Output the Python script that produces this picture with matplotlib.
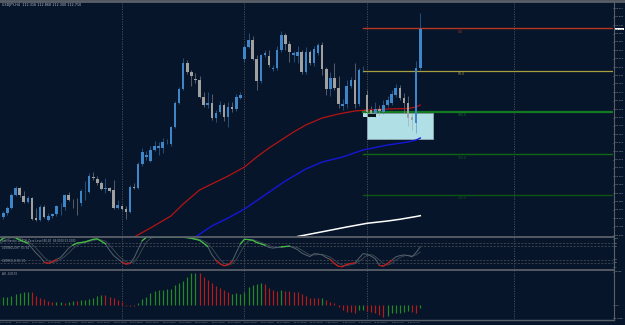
import matplotlib
matplotlib.use("Agg")
import matplotlib.pyplot as plt
import matplotlib.patches as patches
import matplotlib.lines as lines
import matplotlib.transforms as mtrans
import numpy as np
from datetime import date, timedelta

# ---- data (H4 candles) ----
opens = [110.780, 110.830, 110.870, 110.920, 111.050, 111.120, 111.040, 110.980, 111.020, 110.820,
         110.800, 110.930, 110.800, 110.840, 110.860, 110.937, 110.930, 111.050, 110.980, 110.980,
         110.970, 111.087, 111.080, 111.235, 111.210, 111.170, 111.115, 111.120, 111.100, 110.920,
         110.940, 110.910, 110.880, 111.130, 111.120, 111.360, 111.430, 111.390, 111.500, 111.520,
         111.520, 111.577, 111.560, 111.730, 111.970, 112.110, 112.370, 112.280, 112.210, 112.200,
         112.030, 111.950, 111.970, 111.820, 111.880, 111.950, 111.830, 111.930, 111.910, 112.020,
         112.410, 112.530, 112.600, 112.410, 112.190, 112.450, 112.440, 112.310, 112.320, 112.500,
         112.650, 112.560, 112.450, 112.440, 112.480, 112.280, 112.480, 112.370, 112.470, 112.550,
         112.310, 112.110, 112.220, 112.120, 111.940, 111.960, 112.140, 112.200, 111.960, 112.297,
         112.050, 111.900, 111.870, 111.910, 111.880, 111.950, 111.970, 112.050, 112.120, 112.020,
         111.970, 111.830, 111.770, 112.320]
highs = [110.860, 110.890, 110.940, 111.070, 111.140, 111.130, 111.090, 111.040, 111.030, 110.920,
         110.950, 110.950, 110.870, 110.870, 110.950, 110.970, 111.060, 111.080, 111.010, 111.020,
         111.110, 111.190, 111.270, 111.280, 111.240, 111.190, 111.220, 111.130, 111.200, 111.000,
         110.950, 110.940, 111.150, 111.170, 111.380, 111.520, 111.490, 111.540, 111.590, 111.580,
         111.620, 111.610, 111.740, 111.990, 112.130, 112.420, 112.400, 112.300, 112.270, 112.240,
         112.080, 112.080, 112.060, 111.900, 111.990, 111.970, 111.980, 111.980, 112.060, 112.080,
         112.550, 112.670, 112.640, 112.450, 112.460, 112.500, 112.500, 112.350, 112.540, 112.690,
         112.670, 112.590, 112.490, 112.540, 112.500, 112.530, 112.500, 112.540, 112.570, 112.580,
         112.330, 112.280, 112.370, 112.240, 112.010, 112.200, 112.230, 112.370, 112.320, 112.340,
         112.100, 111.940, 111.980, 111.950, 112.000, 112.040, 112.100, 112.160, 112.150, 112.070,
         112.040, 111.870, 112.390, 112.870]
lows = [110.750, 110.810, 110.850, 110.910, 111.040, 111.030, 110.970, 110.970, 110.800, 110.790,
        110.790, 110.820, 110.790, 110.820, 110.840, 110.850, 110.900, 110.990, 110.920, 110.850,
        110.940, 111.000, 111.070, 111.200, 111.150, 111.100, 111.070, 111.080, 110.910, 110.910,
        110.900, 110.810, 110.870, 111.110, 111.110, 111.340, 111.400, 111.380, 111.490, 111.450,
        111.470, 111.560, 111.540, 111.720, 111.960, 112.100, 112.260, 112.140, 112.170, 112.020,
        111.930, 111.920, 111.800, 111.780, 111.860, 111.790, 111.730, 111.880, 111.890, 112.010,
        112.380, 112.520, 112.400, 112.100, 112.170, 112.430, 112.330, 112.290, 112.300, 112.480,
        112.500, 112.380, 112.380, 112.370, 112.260, 112.260, 112.350, 112.340, 112.450, 112.250,
        112.050, 112.040, 112.100, 111.920, 111.900, 111.920, 112.120, 111.920, 111.940, 112.280,
        111.860, 111.840, 111.830, 111.850, 111.860, 111.930, 111.950, 112.030, 112.000, 111.870,
        111.740, 111.700, 111.670, 112.300]
closes = [110.833, 110.870, 110.920, 111.050, 111.120, 111.050, 110.980, 111.020, 110.810, 110.800,
          110.930, 110.830, 110.840, 110.860, 110.940, 110.940, 111.050, 111.000, 110.977, 110.977,
          111.090, 111.090, 111.240, 111.225, 111.170, 111.110, 111.120, 111.090, 110.920, 110.950,
          110.910, 110.880, 111.130, 111.125, 111.360, 111.480, 111.450, 111.500, 111.540, 111.540,
          111.580, 111.580, 111.730, 111.970, 112.110, 112.370, 112.280, 112.240, 112.200, 112.030,
          111.950, 111.970, 111.820, 111.870, 111.950, 111.830, 111.930, 111.910, 112.030, 112.050,
          112.530, 112.600, 112.410, 112.190, 112.450, 112.470, 112.350, 112.320, 112.500, 112.650,
          112.560, 112.480, 112.470, 112.480, 112.280, 112.480, 112.370, 112.510, 112.550, 112.310,
          112.110, 112.220, 112.120, 111.960, 111.960, 112.140, 112.200, 111.960, 112.300, 112.300,
          111.880, 111.870, 111.910, 111.890, 111.950, 112.000, 112.060, 112.120, 112.020, 111.970,
          111.820, 111.800, 112.320, 112.710]

# moving averages (bar index, price)
ma_red_idx = [33, 37, 42, 45, 47, 49, 52, 56, 60, 63, 66, 69, 72, 75, 79, 83, 87, 90, 95, 100, 102, 103]
ma_red_val = [110.63, 110.72, 110.84, 110.96, 111.03, 111.10, 111.16, 111.24, 111.33, 111.43, 111.52,
              111.60, 111.68, 111.75, 111.82, 111.86, 111.89, 111.90, 111.91, 111.915, 111.93, 111.95]
ma_blue_idx = [48, 52, 56, 60, 65, 70, 75, 79, 84, 89, 95, 100, 102, 103]
ma_blue_val = [110.63, 110.74, 110.82, 110.91, 111.05, 111.19, 111.31, 111.38, 111.43, 111.50,
               111.55, 111.58, 111.60, 111.62]
ma_white_idx = [73, 80, 85, 90, 95, 98, 102, 103]
ma_white_val = [110.635, 110.69, 110.73, 110.767, 110.79, 110.807, 110.835, 110.843]

# horizontal levels drawn from bar 89 to the right edge
level_start = 89
level_prices = [112.717, 112.290, 111.880, 111.457, 111.053]
level_names = ["0.0", "50.0", "100.0", "150.0", "200.0"]

# zone box (bar range, price range)
zone_bars = (90, 106)
zone_prices = (111.607, 111.870)

# stochastic
stoch_main = [85, 96, 98, 98, 97, 90, 85, 80, 65, 50, 38, 22, 18, 23, 30, 36, 50, 65, 74, 80,
              82, 84, 88, 92, 93, 86, 78, 58, 42, 32, 22, 16, 18, 35, 62, 88, 98, 98, 98, 98,
              98, 98, 98, 98, 98, 98, 97, 95, 92, 89, 80, 70, 45, 28, 17, 11, 14, 25, 52, 78,
              92, 91, 89, 82, 78, 74, 67, 65, 67, 69, 70, 71, 66, 60, 50, 44, 39, 48, 47, 44,
              36, 30, 18, 9, 8, 15, 18, 19, 34, 48, 46, 40, 32, 12, 10, 18, 27, 38, 42, 44,
              42, 38, 52, 69]
stoch_signal = [80, 86, 92, 97, 97, 95, 91, 85, 77, 65, 51, 37, 26, 21, 24, 30, 39, 50, 63, 73,
                79, 82, 85, 88, 91, 90, 86, 74, 59, 44, 32, 23, 19, 23, 38, 62, 83, 95, 98, 98,
                98, 98, 98, 98, 98, 98, 98, 97, 95, 92, 87, 80, 65, 48, 30, 19, 14, 17, 30, 52,
                74, 87, 91, 87, 83, 78, 73, 69, 67, 67, 69, 70, 69, 66, 59, 51, 44, 44, 45, 46,
                42, 37, 28, 19, 12, 11, 14, 17, 24, 34, 43, 45, 39, 28, 18, 13, 18, 28, 36, 41,
                43, 41, 44, 53]

# oscillator histogram
osc = [0.037, 0.039, 0.042, 0.047, 0.055, 0.062, 0.065, 0.067, 0.064, 0.045,
       0.035, 0.029, 0.020, 0.014, 0.014, 0.014, 0.012, 0.017, 0.020, 0.022,
       0.025, 0.027, 0.030, 0.037, 0.045, 0.050, 0.050, 0.042, 0.034, 0.025,
       0.014, -0.004, -0.005, -0.004, 0.009, 0.029, 0.042, 0.059, 0.072, 0.075,
       0.075, 0.079, 0.082, 0.100, 0.109, 0.122, 0.142, 0.159, 0.162, 0.159,
       0.142, 0.125, 0.109, 0.095, 0.087, 0.075, 0.064, 0.055, 0.059, 0.054,
       0.067, 0.089, 0.100, 0.105, 0.109, 0.105, 0.084, 0.075, 0.072, 0.075,
       0.072, 0.070, 0.067, 0.064, 0.054, 0.047, 0.037, 0.037, 0.034, 0.034,
       0.025, 0.017, 0.012, -0.012, -0.025, -0.034, -0.034, -0.039, -0.025, -0.025,
       -0.030, -0.034, -0.042, -0.050, -0.062, -0.055, -0.042, -0.042, -0.039, -0.034,
       -0.030, -0.034, -0.039, -0.017]
# bar colour state, u = green, d = red (10 bars per chunk)
osc_dir = ("uuuuuuuudd" "dddduuduud" "uuuuuudddd" "dddduuuuuu" "uuuuuuuuud"
           "ddddddduuu" "uuuuuddddu" "dddddddddu" "dddddddduu" "ddddduuuuu"
           "uddu")

separators = [30, 60, 90, 126]
START = date(2018, 10, 15)

# ---- style ----
BG = "#07152a"
GRID = "#4b535c"
FRAME = "#5a6068"
TXT = "#9ea6ae"
BULL = "#3f86c8"
BEAR = "#a0a0a0"

W, H = 625, 325
fig = plt.figure(figsize=(W / 100, H / 100), dpi=100, facecolor=BG)

XL = (0.79 / 4.088, (613 + 0.79) / 4.088)


def px_axes(top, bottom):
    return fig.add_axes([0, 1 - bottom / H, 613 / W, (bottom - top) / H], facecolor=BG)


ax = px_axes(2, 236.5)
ax_st = px_axes(237.0, 269.3)
ax_os = px_axes(270.5, 319.0)

for a in (ax, ax_st, ax_os):
    a.set_xlim(*XL)
    for s in a.spines.values():
        s.set_visible(False)
    a.tick_params(axis='x', length=0, labelbottom=False)
    a.yaxis.tick_right()
    a.tick_params(axis='y', labelsize=1.6, colors=TXT, length=0.8, width=0.4, pad=0.4)
    for sx in separators:
        a.axvline(sx, color=GRID, lw=0.6, ls=(0, (1.5, 1.5)), zorder=1)

# main price panel
ax.set_ylim(113 - 236.5 / 100, 113 - 2 / 100)
ticks = 112.917 - 0.084 * np.arange(28)
ax.set_yticks(ticks)
ax.set_yticklabels([f"{t:.3f}" for t in ticks])

x = np.arange(len(opens))
o = np.array(opens)
c = np.array(closes)
cols = [BULL if cc >= oo else BEAR for oo, cc in zip(o, c)]
ax.vlines(x, lows, highs, colors=cols, lw=0.45, alpha=0.8, zorder=3)
body = np.maximum(np.abs(c - o), 0.006)
ax.bar(x, body, 0.62, bottom=np.minimum(o, c), color=cols, linewidth=0, zorder=4)

# zone box
ax.add_patch(patches.Rectangle((zone_bars[0], zone_prices[0]), zone_bars[1] - zone_bars[0],
                               zone_prices[1] - zone_prices[0], facecolor="#b0e0e6",
                               edgecolor="#8fa9b0", lw=0.6, zorder=2))
ax.add_patch(patches.Rectangle((level_start, 111.83), 1, 0.07, facecolor="#b0e0e6",
                               edgecolor="none", zorder=2))
ax.add_patch(patches.Rectangle((zone_bars[0] + 0.1, 111.83), 2, 0.03, facecolor="#0b1118",
                               edgecolor="none", zorder=5))

# levels
level_colors = ["#b4361e", "#a8a040", "#137a1f", "#0e6615", "#0c5411"]
level_widths = [1.0, 0.9, 1.6, 1.0, 1.0]
for p, name, col, lw in zip(level_prices, level_names, level_colors, level_widths):
    ax.plot([level_start, XL[1]], [p, p], color=col, lw=lw, zorder=2.5)
    ax.text(112.2, p - 0.012, name, color=col, fontsize=2.2, va='top', ha='left')

# moving averages
ax.plot(ma_red_idx, ma_red_val, color="#b41414", lw=0.9, zorder=3.5)
ax.plot(ma_blue_idx, ma_blue_val, color="#1616d8", lw=1.0, zorder=3.5)
ax.plot(ma_white_idx, ma_white_val, color="#ffffff", lw=1.1, zorder=3.5)

# current price label
ax.annotate(f"{closes[-1]:.3f}", xy=(1.0, closes[-1]), xycoords=('axes fraction', 'data'),
            xytext=(1.0, 0), textcoords='offset points', fontsize=1.6, color="#101820",
            va='center', ha='left', annotation_clip=False,
            bbox=dict(boxstyle='square,pad=0.3', fc='white', ec='none'))

ax.text(0.003, 0.995, "USDJPY,H4  112.316 112.868 112.300 112.710", transform=ax.transAxes,
        fontsize=2.4, color="#b8c0c8", va='top', ha='left')

# stochastic panel
ax_st.set_ylim(0, 99)
ax_st.set_yticks([6, 21.5, 30.7, 70, 80, 94])
ax_st.set_yticklabels(["0", "20", "30", "70", "80", "100"])
for lvl in (80, 70, 30, 20):
    ax_st.axhline(lvl, color=GRID, lw=0.5, ls=(0, (3, 2)), zorder=1)
sm = np.array(stoch_main, dtype=float)
ax_st.plot(x, stoch_signal, color="#3a4550", lw=0.7, zorder=2)
ax_st.plot(x, sm, color="#56626e", lw=0.7, zorder=3)
ax_st.plot(x, np.where(sm >= 68, sm, np.nan), color="#3fbf3f", lw=0.9, zorder=4)
ax_st.plot(x, np.where(sm <= 30, sm, np.nan), color="#c41818", lw=0.9, zorder=4)
ax_st.text(0.003, 0.93, "Stochastic(14,3,3) Zero Level 80,20  69.0000 53.0000",
           transform=ax_st.transAxes, fontsize=2.0, color=TXT, va='top')
ax_st.text(0.003, 0.72, "OVERBOUGHT 70 / 80", transform=ax_st.transAxes, fontsize=1.8, color=TXT, va='top')
ax_st.text(0.003, 0.33, "OVERSOLD 30 / 20", transform=ax_st.transAxes, fontsize=1.8, color=TXT, va='top')

# oscillator panel
ax_os.set_ylim(-0.07, 0.1725)
ax_os.set_yticks([0.1665, 0.0, -0.0665])
ax_os.set_yticklabels(["0.1665", "0.00", "-0.0665"])
osc_cols = ["#228a22" if d == "u" else "#b81a1a" for d in osc_dir]
ax_os.vlines(x, 0, osc, colors=osc_cols, lw=0.85, zorder=3)
ax_os.text(0.003, 0.97, "AO -0.0170", transform=ax_os.transAxes, fontsize=2.0, color=TXT, va='top')


# time labels every 4 bars
def bar_label(i):
    d = i // 6
    day = START + timedelta(days=(d // 5) * 7 + d % 5)
    if i == 0:
        return f"{day.day} {day.strftime('%b')} {day.year}"
    return f"{day.day} {day.strftime('%b')} {(i % 6) * 4:02d}:00"


tr = mtrans.blended_transform_factory(ax_os.transData, fig.transFigure)
for i in range(0, len(opens), 4):
    ax_os.text(i, 1 - 322.2 / H, bar_label(i), transform=tr, fontsize=1.35, color=TXT,
               va='center', ha='left', clip_on=False)

# frame lines
for yy, lw in ((1.0, 2.0), (236.8, 1.3), (269.8, 1.3), (319.5, 1.0)):
    fig.add_artist(lines.Line2D([0, 613.5 / W if yy > 5 else 1], [1 - yy / H, 1 - yy / H],
                                color=FRAME, lw=lw))
fig.add_artist(lines.Line2D([613.5 / W, 613.5 / W], [1 - 2 / H, 1 - 320 / H], color=FRAME, lw=0.8))

fig.savefig("out.png", dpi=100, facecolor=BG)
